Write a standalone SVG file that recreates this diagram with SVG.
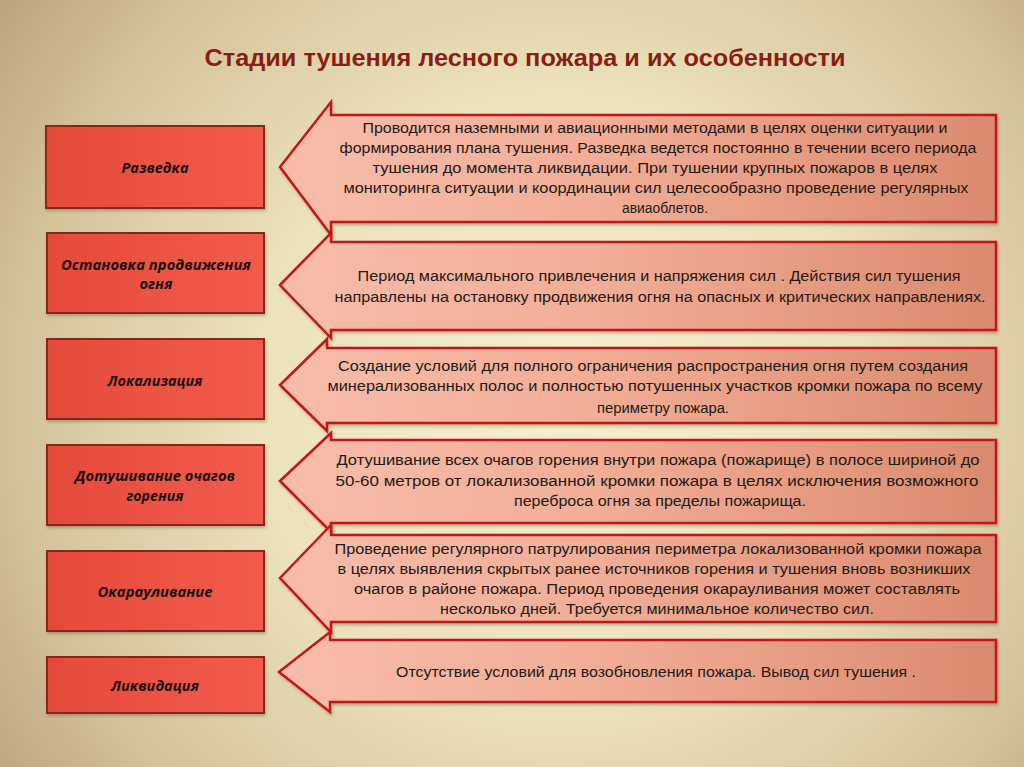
<svg xmlns="http://www.w3.org/2000/svg" width="1024" height="767" viewBox="0 0 1024 767">
<defs>
<radialGradient id="bg" cx="560" cy="400" r="680" gradientUnits="userSpaceOnUse">
<stop offset="0" stop-color="#f5efce"/>
<stop offset="0.45" stop-color="#ece2bb"/>
<stop offset="0.8" stop-color="#d4c299"/>
<stop offset="1" stop-color="#bba57e"/>
</radialGradient>
<linearGradient id="boxg" x1="0" y1="0" x2="1" y2="0">
<stop offset="0" stop-color="#e54a3a"/>
<stop offset="1" stop-color="#f25b4b"/>
</linearGradient>
<linearGradient id="arrg" x1="278" y1="0" x2="996" y2="0" gradientUnits="userSpaceOnUse">
<stop offset="0" stop-color="#f7bdaa"/>
<stop offset="0.45" stop-color="#f2ad96"/>
<stop offset="1" stop-color="#da8a6e"/>
</linearGradient>
<filter id="sh" x="-5%" y="-10%" width="110%" height="125%">
<feDropShadow dx="1" dy="2" stdDeviation="1.5" flood-color="#5a4020" flood-opacity="0.35"/>
</filter>
</defs>
<style>
.box{fill:url(#boxg);stroke:#86261a;stroke-width:2;filter:url(#sh)}
.arr{fill:url(#arrg);stroke:#c2141a;stroke-width:2.5;stroke-linejoin:miter;filter:url(#sh)}
.bl{font-family:"Open Sans","Liberation Sans",sans-serif;font-size:14px;font-weight:bold;font-style:italic;fill:#1a1010;text-anchor:middle}
.at{font-family:"Liberation Sans","Open Sans",sans-serif;font-size:15.5px;fill:#231a16;text-anchor:middle}
.title{font-family:"Liberation Sans","Open Sans",sans-serif;font-size:24px;font-weight:bold;fill:#8a1e14;text-anchor:middle}
</style>
<rect x="0" y="0" width="1024" height="767" fill="url(#bg)"/>
<text class="title" x="525" y="66" textLength="641" lengthAdjust="spacingAndGlyphs">Стадии тушения лесного пожара и их особенности</text>

<g id="stage-razvedka">
<rect class="box" x="46" y="126" width="218" height="82"/>
<text class="bl" x="155" y="173" textLength="67" lengthAdjust="spacingAndGlyphs">Разведка</text>
</g>
<g id="stage-ostanovka">
<rect class="box" x="47" y="233" width="217" height="80"/>
<text class="bl" x="156" y="270" textLength="190" lengthAdjust="spacingAndGlyphs">Остановка продвижения</text>
<text class="bl" x="156" y="289" textLength="33" lengthAdjust="spacingAndGlyphs">огня</text>
</g>
<g id="stage-lokalizaciya">
<rect class="box" x="47" y="339" width="217" height="80"/>
<text class="bl" x="155" y="386" textLength="95" lengthAdjust="spacingAndGlyphs">Локализация</text>
</g>
<g id="stage-dotushivanie">
<rect class="box" x="47" y="445" width="217" height="80"/>
<text class="bl" x="155" y="481" textLength="160" lengthAdjust="spacingAndGlyphs">Дотушивание очагов</text>
<text class="bl" x="155" y="501" textLength="57" lengthAdjust="spacingAndGlyphs">горения</text>
</g>
<g id="stage-okaraulivanie">
<rect class="box" x="47" y="551" width="217" height="80"/>
<text class="bl" x="155" y="597" textLength="115" lengthAdjust="spacingAndGlyphs">Окарауливание</text>
</g>
<g id="stage-likvidaciya">
<rect class="box" x="47" y="657" width="217" height="56"/>
<text class="bl" x="155" y="691" textLength="88" lengthAdjust="spacingAndGlyphs">Ликвидация</text>
</g>

<g id="desc-razvedka">
<path class="arr" d="M280,167 L331,102 L331,115 L996,115 L996,222 L331,222 L331,235 Z"/>
<text class="at" x="655" y="133" textLength="585" lengthAdjust="spacingAndGlyphs">Проводится  наземными и авиационными методами в целях оценки ситуации и</text>
<text class="at" x="658" y="153" textLength="637" lengthAdjust="spacingAndGlyphs">формирования плана тушения. Разведка ведется постоянно в течении всего периода</text>
<text class="at" x="655" y="173" textLength="565" lengthAdjust="spacingAndGlyphs">тушения до момента ликвидации.  При тушении крупных пожаров в целях</text>
<text class="at" x="656" y="193" textLength="625" lengthAdjust="spacingAndGlyphs">мониторинга  ситуации  и координации сил целесообразно проведение регулярных</text>
<text class="at" x="665" y="213" textLength="86" lengthAdjust="spacingAndGlyphs">авиаоблетов.</text>
</g>
<g id="desc-ostanovka">
<path class="arr" d="M280,285 L331,233 L331,242 L996,242 L996,330 L331,330 L331,338 Z"/>
<text class="at" x="659" y="281" textLength="603" lengthAdjust="spacingAndGlyphs">Период максимального привлечения  и напряжения сил .  Действия сил тушения</text>
<text class="at" x="660" y="302" textLength="651" lengthAdjust="spacingAndGlyphs">направлены  на остановку продвижения огня на опасных и критических направлениях.</text>
</g>
<g id="desc-lokalizaciya">
<path class="arr" d="M280,385 L327,339 L327,348 L996,348 L996,423 L327,423 L327,431 Z"/>
<text class="at" x="653" y="371" textLength="630" lengthAdjust="spacingAndGlyphs">Создание условий для  полного ограничения распространения  огня  путем создания</text>
<text class="at" x="655" y="391" textLength="655" lengthAdjust="spacingAndGlyphs">минерализованных полос и  полностью потушенных участков кромки пожара по всему</text>
<text class="at" x="663" y="413" textLength="132" lengthAdjust="spacingAndGlyphs">периметру пожара.</text>
</g>
<g id="desc-dotushivanie">
<path class="arr" d="M280,481 L331,433 L331,440 L996,440 L996,523 L331,523 L331,532 Z"/>
<text class="at" x="658" y="465" textLength="643" lengthAdjust="spacingAndGlyphs">Дотушивание всех очагов горения внутри пожара (пожарище)  в полосе  шириной до</text>
<text class="at" x="657" y="486" textLength="643" lengthAdjust="spacingAndGlyphs">50-60 метров от локализованной кромки пожара в целях исключения возможного</text>
<text class="at" x="660" y="506" textLength="292" lengthAdjust="spacingAndGlyphs">переброса огня  за пределы пожарища.</text>
</g>
<g id="desc-okaraulivanie">
<path class="arr" d="M280,578 L331,525 L331,535 L996,535 L996,622 L331,622 L331,632 Z"/>
<text class="at" x="658" y="554" textLength="647" lengthAdjust="spacingAndGlyphs">Проведение регулярного патрулирования периметра локализованной кромки пожара</text>
<text class="at" x="654" y="574" textLength="633" lengthAdjust="spacingAndGlyphs">в целях выявления скрытых ранее источников горения и тушения  вновь возникших</text>
<text class="at" x="657" y="594" textLength="606" lengthAdjust="spacingAndGlyphs">очагов  в районе пожара.  Период проведения окарауливания  может  составлять</text>
<text class="at" x="657" y="614" textLength="434" lengthAdjust="spacingAndGlyphs">несколько дней. Требуется минимальное количество сил.</text>
</g>
<g id="desc-likvidaciya">
<path class="arr" d="M279,672 L330,632 L330,640 L996,640 L996,702 L330,702 L330,712 Z"/>
<text class="at" x="656" y="677" textLength="520" lengthAdjust="spacingAndGlyphs">Отсутствие условий для возобновления пожара. Вывод сил тушения .</text>
</g>
<g id="connectors"/>
</svg>
